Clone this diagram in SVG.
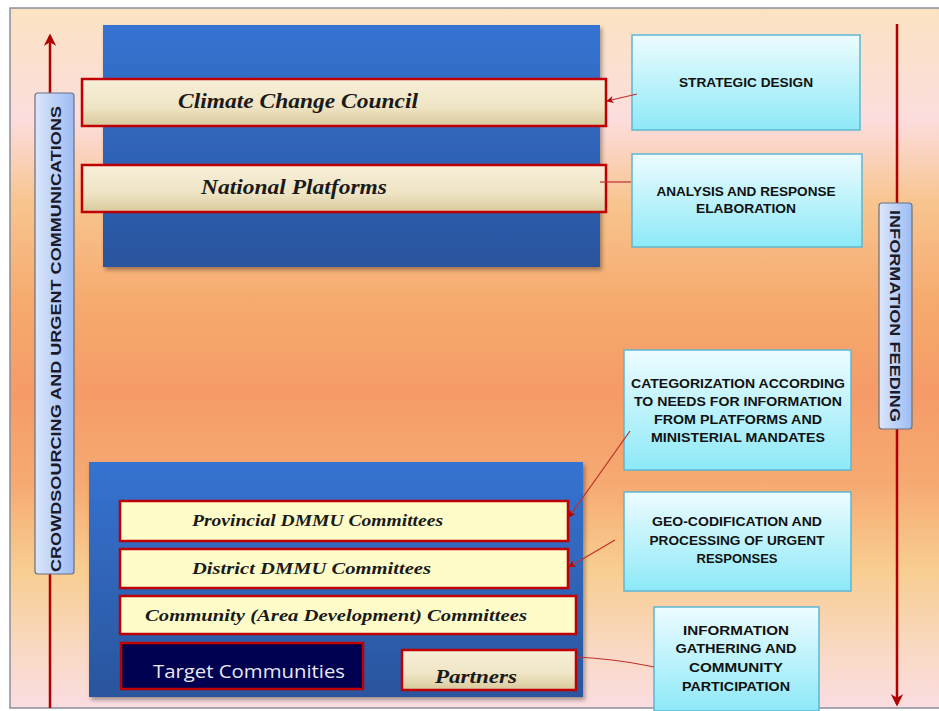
<svg xmlns="http://www.w3.org/2000/svg" width="939" height="711" viewBox="0 0 939 711">
<defs>
<linearGradient id="bg" x1="0" y1="0" x2="0" y2="1">
<stop offset="0" stop-color="#fbe3c2"/>
<stop offset="0.16" stop-color="#fcdddd"/>
<stop offset="0.28" stop-color="#f8c48e"/>
<stop offset="0.42" stop-color="#f6aa6e"/>
<stop offset="0.55" stop-color="#f59b68"/>
<stop offset="0.68" stop-color="#f6aa72"/>
<stop offset="0.8" stop-color="#f8cd90"/>
<stop offset="0.92" stop-color="#f9d9c4"/>
<stop offset="1" stop-color="#fbdde2"/>
</linearGradient>
<linearGradient id="blue" x1="0" y1="0" x2="0" y2="1">
<stop offset="0" stop-color="#3573d2"/>
<stop offset="1" stop-color="#2a559e"/>
</linearGradient>
<linearGradient id="beige" x1="0" y1="0" x2="0" y2="1">
<stop offset="0" stop-color="#f7efd9"/>
<stop offset="0.6" stop-color="#efe4c4"/>
<stop offset="1" stop-color="#d8c99c"/>
</linearGradient>
<linearGradient id="cyan" x1="0" y1="0" x2="0" y2="1">
<stop offset="0" stop-color="#edfcff"/>
<stop offset="1" stop-color="#8de9f7"/>
</linearGradient>
<linearGradient id="lab" x1="0" y1="0" x2="1" y2="0">
<stop offset="0" stop-color="#dbe7fb"/>
<stop offset="1" stop-color="#9dbbf3"/>
</linearGradient>
<marker id="ah" viewBox="0 0 10 10" refX="9" refY="5" markerWidth="6" markerHeight="6" orient="auto">
<path d="M0,0 L10,5 L0,10 L3,5 z" fill="#b00000"/>
</marker>
<marker id="big" viewBox="0 0 10 10" refX="8" refY="5" markerWidth="5" markerHeight="5" orient="auto">
<path d="M0,0 L10,5 L0,10 L3,5 z" fill="#b00000"/>
</marker>
<filter id="sh" x="-5%" y="-5%" width="110%" height="115%">
<feDropShadow dx="2" dy="3" stdDeviation="2" flood-color="#000" flood-opacity="0.35"/>
</filter>
</defs>
<style>
.bar{stroke:#c00000;stroke-width:2.5}
.t1{font-family:"Liberation Serif",serif;font-style:italic;font-weight:bold;fill:#1a1a1a}
.cy{fill:url(#cyan);stroke:#5eb7d2;stroke-width:1.5}
.ct{font-family:"Liberation Sans",sans-serif;font-weight:bold;font-size:12px;fill:#111;text-anchor:middle}
.lab{fill:url(#lab);stroke:#6a7080;stroke-width:1.2}
.lt{font-family:"Liberation Sans",sans-serif;font-weight:bold;font-size:14px;fill:#1a1a2a}
.conn{fill:none;stroke:#c0302a;stroke-width:1.2}
</style>
<rect x="0" y="0" width="939" height="711" fill="#ffffff"/>
<rect x="10" y="8" width="934" height="700" fill="url(#bg)" stroke="#8a8f99" stroke-width="1.5"/>

<g id="left-arrow">
<line x1="50" y1="708" x2="50" y2="36" stroke="#b00000" stroke-width="2.5" marker-end="url(#big)"/>
<rect class="lab" x="35" y="93" width="39" height="481" rx="3"/>
<text class="lt" transform="translate(61,572) rotate(-90)" textLength="466" lengthAdjust="spacingAndGlyphs">CROWDSOURCING AND URGENT COMMUNICATIONS</text>
</g>

<g id="right-arrow">
<line x1="897" y1="24" x2="897" y2="704" stroke="#b00000" stroke-width="2.5" marker-end="url(#big)"/>
<rect class="lab" x="879" y="203" width="33" height="226" rx="3"/>
<text class="lt" transform="translate(890,210) rotate(90)" textLength="212" lengthAdjust="spacingAndGlyphs">INFORMATION FEEDING</text>
</g>

<g id="top-panel">
<rect x="103" y="25" width="497" height="242" fill="url(#blue)" filter="url(#sh)"/>
</g>
<g id="climate-change-council">
<rect class="bar" x="82" y="79" width="524" height="47" fill="url(#beige)"/>
<text class="t1" x="178" y="108" font-size="21" textLength="240" lengthAdjust="spacingAndGlyphs">Climate Change Council</text>
</g>
<g id="national-platforms">
<rect class="bar" x="82" y="165" width="524" height="47" fill="url(#beige)"/>
<text class="t1" x="201" y="194" font-size="21" textLength="186" lengthAdjust="spacingAndGlyphs">National Platforms</text>
</g>

<g id="bottom-panel">
<rect x="89" y="462" width="494" height="235" fill="url(#blue)" filter="url(#sh)"/>
</g>
<g id="provincial">
<rect class="bar" x="120" y="501" width="448" height="40" fill="#fefcc9" stroke-width="2"/>
<text class="t1" x="192" y="526" font-size="16.5" textLength="251" lengthAdjust="spacingAndGlyphs">Provincial DMMU Committees</text>
</g>
<g id="district">
<rect class="bar" x="120" y="549" width="448" height="39" fill="#fefcc9" stroke-width="2"/>
<text class="t1" x="192" y="574" font-size="16.5" textLength="239" lengthAdjust="spacingAndGlyphs">District DMMU Committees</text>
</g>
<g id="community">
<rect class="bar" x="120" y="596" width="456" height="38" fill="#fefcc9" stroke-width="2"/>
<text class="t1" x="145" y="621" font-size="16.5" textLength="382" lengthAdjust="spacingAndGlyphs">Community (Area Development) Committees</text>
</g>
<g id="target-communities">
<rect class="bar" x="121" y="643" width="242" height="46" fill="#000050" stroke-width="2"/>
<text x="153" y="678" font-family="'Open Sans','Liberation Sans',sans-serif" font-size="19" fill="#e8e8f0" textLength="192" lengthAdjust="spacingAndGlyphs">Target Communities</text>
</g>
<g id="partners">
<rect class="bar" x="402" y="650" width="174" height="40" fill="url(#beige)" stroke-width="2"/>
<text class="t1" x="435" y="683" font-size="18" textLength="82" lengthAdjust="spacingAndGlyphs">Partners</text>
</g>

<g id="strategic-design">
<rect class="cy" x="632" y="35" width="228" height="95"/>
<text class="ct" x="746" y="87" textLength="134" lengthAdjust="spacingAndGlyphs">STRATEGIC DESIGN</text>
</g>
<g id="analysis">
<rect class="cy" x="632" y="154" width="230" height="93"/>
<text class="ct" x="746" y="196" textLength="179" lengthAdjust="spacingAndGlyphs">ANALYSIS AND RESPONSE</text>
<text class="ct" x="746" y="213" textLength="100" lengthAdjust="spacingAndGlyphs">ELABORATION</text>
</g>
<g id="categorization">
<rect class="cy" x="624" y="350" width="227" height="120"/>
<text class="ct" x="738" y="388" textLength="214" lengthAdjust="spacingAndGlyphs">CATEGORIZATION ACCORDING</text>
<text class="ct" x="738" y="406" textLength="208" lengthAdjust="spacingAndGlyphs">TO NEEDS FOR INFORMATION</text>
<text class="ct" x="738" y="424" textLength="168" lengthAdjust="spacingAndGlyphs">FROM PLATFORMS AND</text>
<text class="ct" x="738" y="442" textLength="174" lengthAdjust="spacingAndGlyphs">MINISTERIAL MANDATES</text>
</g>
<g id="geo-codification">
<rect class="cy" x="624" y="492" width="227" height="99"/>
<text class="ct" x="737" y="526" textLength="170" lengthAdjust="spacingAndGlyphs">GEO-CODIFICATION AND</text>
<text class="ct" x="737" y="545" textLength="175" lengthAdjust="spacingAndGlyphs">PROCESSING OF URGENT</text>
<text class="ct" x="737" y="563" textLength="81" lengthAdjust="spacingAndGlyphs">RESPONSES</text>
</g>
<g id="information-gathering">
<rect class="cy" x="654" y="607" width="165" height="104"/>
<text class="ct" x="736" y="635" textLength="106" lengthAdjust="spacingAndGlyphs">INFORMATION</text>
<text class="ct" x="736" y="653" textLength="121" lengthAdjust="spacingAndGlyphs">GATHERING AND</text>
<text class="ct" x="736" y="672" textLength="94" lengthAdjust="spacingAndGlyphs">COMMUNITY</text>
<text class="ct" x="736" y="691" textLength="108" lengthAdjust="spacingAndGlyphs">PARTICIPATION</text>
</g>

<g id="connectors">
<path class="conn" d="M637,94 L607,101" marker-end="url(#ah)"/>
<path class="conn" d="M631,182 L600,182"/>
<path class="conn" d="M630,431 L569,517" marker-end="url(#ah)"/>
<path class="conn" d="M615,540 L569,567" marker-end="url(#ah)"/>
<path class="conn" d="M654,667 Q630,662 612,660 Q595,658 577,657"/>
</g>
</svg>
